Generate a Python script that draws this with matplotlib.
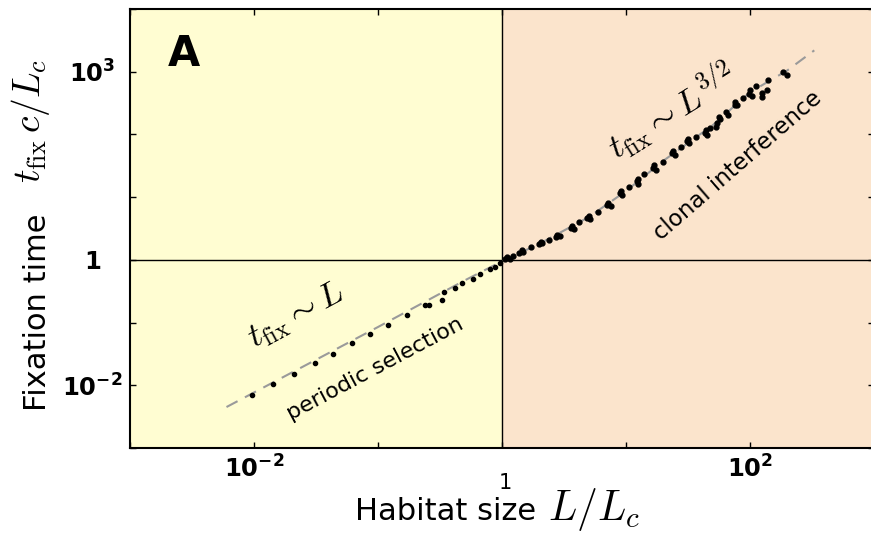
import matplotlib
matplotlib.use("Agg")
import matplotlib.pyplot as plt

W, H = 871, 535

# periodic selection regime (L < Lc)
L_ps = [0.0096, 0.0142, 0.021, 0.031, 0.043, 0.062, 0.086, 0.12, 0.17, 0.24,
        0.26, 0.33, 0.34, 0.42, 0.48, 0.58, 0.66, 0.80, 0.88, 0.96]
t_ps = [0.0070, 0.0103, 0.0152, 0.023, 0.0318, 0.047, 0.065, 0.091, 0.132, 0.19,
        0.188, 0.23, 0.31, 0.357, 0.42, 0.50, 0.59, 0.71, 0.78, 0.90]

# clonal interference regime (L > Lc)
L_ci = [1.05, 1.10, 1.15, 1.22, 1.38, 1.45, 1.48, 2.00, 2.05, 2.12,
        2.72, 2.80, 2.92, 3.60, 3.70, 3.80, 4.85, 5.00, 5.15, 7.00,
        7.20, 7.50, 8.90, 9.10, 9.30, 12.2, 12.5, 12.4, 16.5, 16.8,
        17.3, 23.5, 24.0, 24.8, 31.0, 31.8, 32.5, 43.0, 44.0, 45.0,
        53.0, 54.0, 56.0, 57.0, 75.0, 76.0, 78.0, 98.0, 100, 104,
        124, 126, 138, 140, 185, 200, 1.7, 2.4, 4.2, 6.0,
        10.5, 14.0, 20.0, 28.0, 37.0, 48.0, 64.0, 66.0, 88.0, 112]
t_ci = [1.02, 1.10, 1.05, 1.16, 1.30, 1.42, 1.33, 1.80, 1.95, 1.85,
        2.30, 2.50, 2.38, 3.20, 3.45, 3.05, 4.70, 5.00, 4.50, 7.40,
        8.00, 7.10, 11.5, 12.5, 10.8, 18.0, 19.5, 16.5, 29.0, 32.0,
        27.0, 50.0, 55.0, 47.0, 78.0, 86.0, 72.0, 105, 118, 98,
        130, 150, 190, 175, 300, 330, 290, 440, 520, 410,
        400, 460, 510, 740, 980, 890, 1.60, 2.10, 4.00, 5.80,
        14.5, 23.0, 37.0, 64.0, 92.0, 125, 230, 205, 380, 600]

# theory curve (dashed)
L_th = [0.006, 0.1, 0.5, 1, 2, 5, 10, 20, 50, 100, 200, 330]
t_th = [0.0045, 0.085, 0.47, 0.95, 1.8, 4.8, 12.5, 38, 140, 470, 1050, 2190]

x_ticks = [1e-3, 1e-2, 1e-1, 1, 1e1, 1e2, 1e3]
x_ticklabels = ['', r'$\mathbf{10^{-2}}$', '', '', '', r'$\mathbf{10^{2}}$', '']
y_ticks = [1e-3, 1e-2, 1e-1, 1, 1e1, 1e2, 1e3, 1e4]
y_ticklabels = ['', r'$\mathbf{10^{-2}}$', '', '1', '', '', r'$\mathbf{10^{3}}$', '']


def fpos(x, y):
    # pixel position -> figure fraction
    return x / W, 1 - y / H


plt.rcParams['font.family'] = 'DejaVu Sans'
plt.rcParams['mathtext.fontset'] = 'dejavusans'

fig = plt.figure(figsize=(W / 100, H / 100), dpi=100)
ax = fig.add_axes([130 / W, 1 - 448 / H, 744 / W, 439 / H])

ax.set_xscale('log')
ax.set_yscale('log')
ax.set_xlim(1e-3, 1e3)
ax.set_ylim(1e-3, 1e4)

ax.axvspan(1e-3, 1, color='#FFFDD2', zorder=0)
ax.axvspan(1, 1e3, color='#FBE4CC', zorder=0)
ax.axhline(1, color='black', lw=1, zorder=1)
ax.axvline(1, color='black', lw=1, zorder=1)

ax.plot(L_th, t_th, color='#9a9a9a', lw=1.5, dashes=(6, 4), zorder=2)
ax.plot(L_ps, t_ps, 'o', color='black', ms=3, zorder=3)
ax.plot(L_ci, t_ci, 'o', color='black', ms=3.5, zorder=3)

ax.minorticks_off()
ax.set_xticks(x_ticks)
ax.set_xticklabels(x_ticklabels)
ax.set_yticks(y_ticks)
ax.set_yticklabels(y_ticklabels)
ax.tick_params(which='major', direction='in', top=True, right=True,
               length=4, width=1, labelsize=17.5)
ax.tick_params(axis='x', pad=5)
ax.tick_params(axis='y', pad=27)
for lbl in ax.get_yticklabels():
    lbl.set_ha('center')
    lbl.set_fontweight('bold')
for s in ax.spines.values():
    s.set_linewidth(1.5)

# the small "1" under the L = Lc tick sits lower than the other labels
fig.text(*fpos(505, 483), '1', fontsize=15, ha='center', va='center')

# panel letter
ax.text(*fpos(184, 54), 'A', transform=fig.transFigure, ha='center', va='center',
        fontsize=30, fontweight='bold')

# regime annotations
ax.text(0.0219, 0.133, r'$t_{\rm fix} \sim L$', math_fontfamily='cm', fontsize=25,
        rotation=28.5, rotation_mode='anchor', ha='center', va='center')
ax.text(0.095, 0.018, 'periodic selection', fontsize=16,
        rotation=28, rotation_mode='anchor', ha='center', va='center')
ax.text(23, 240, r'$t_{\rm fix} \sim L^{3/2}$', math_fontfamily='cm', fontsize=25,
        rotation=32, rotation_mode='anchor', ha='center', va='center')
ax.text(79, 32, 'clonal interference', fontsize=16.5,
        rotation=41, rotation_mode='anchor', ha='center', va='center')

# axis labels (text and math drawn at different sizes)
fig.text(*fpos(355, 520), 'Habitat size', fontsize=22, ha='left', va='baseline')
fig.text(*fpos(548, 520), r'$L/L_c$', math_fontfamily='cm', fontsize=30,
         ha='left', va='baseline')
fig.text(*fpos(37, 312), 'Fixation time', fontsize=22, rotation=90,
         ha='center', va='center')
fig.text(*fpos(31, 121), r'$t_{\rm fix}\,c/L_c$', math_fontfamily='cm', fontsize=27,
         rotation=90, ha='center', va='center')

fig.savefig('out.png', dpi=100)
